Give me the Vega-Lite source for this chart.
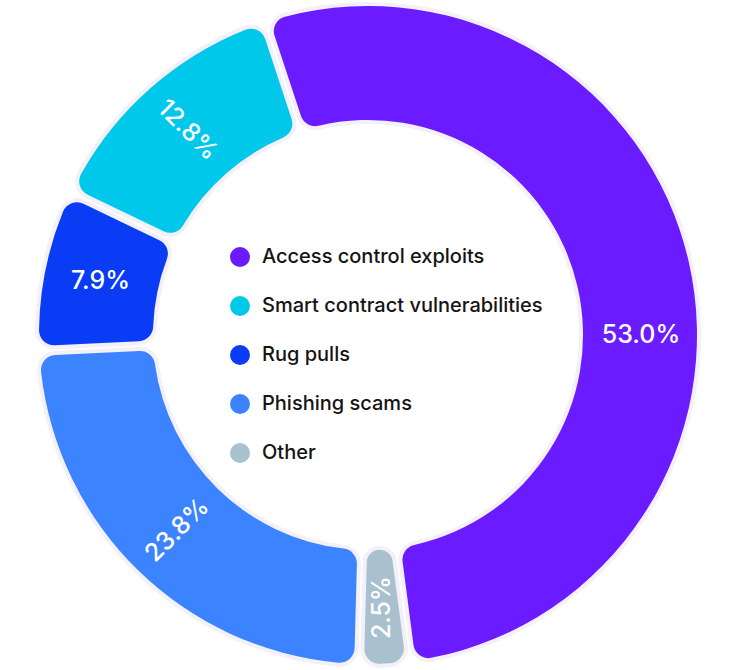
{
  "$schema": "https://vega.github.io/schema/vega-lite/v6.json",
  "width": 736,
  "height": 670,
  "autosize": {"type": "fit", "contains": "padding"},
  "padding": 0,
  "background": "white",
  "config": {"view": {"stroke": null}, "font": "Inter"},
  "data": {
    "values": [
      {"category": "Access control exploits", "share": 0.530},
      {"category": "Smart contract vulnerabilities", "share": 0.128},
      {"category": "Rug pulls", "share": 0.079},
      {"category": "Phishing scams", "share": 0.238},
      {"category": "Other", "share": 0.025}
    ]
  },
  "encoding": {
    "theta": {"field": "share", "type": "quantitative", "stack": true, "scale": {"range": [-0.3185, 5.9647]}},
    "order": {"field": "category", "type": "ordinal", "sort": "ascending"}
  },
  "layer": [
    {
      "mark": {"type": "arc", "outerRadius": 329, "innerRadius": 215, "padAngle": 0.025, "cornerRadius": 15, "fill": "#f3f0f8", "stroke": "#f3f0f8", "strokeWidth": 8}
    },
    {
      "mark": {"type": "arc", "outerRadius": 329, "innerRadius": 215, "padAngle": 0.025, "cornerRadius": 15},
      "encoding": {
        "color": {
          "field": "category",
          "type": "nominal",
          "scale": {
            "domain": ["Access control exploits", "Smart contract vulnerabilities", "Rug pulls", "Phishing scams", "Other"],
            "range": ["#6a1bff", "#00c8ea", "#0a3bf5", "#3c84ff", "#a9c0ce"]
          },
          "legend": {
            "orient": "none",
            "legendX": 230,
            "legendY": 237,
            "title": null,
            "symbolType": "circle",
            "symbolSize": 400,
            "symbolOpacity": 1,
            "symbolStrokeWidth": 0,
            "labelFontSize": 20,
            "labelFont": "Inter",
            "labelFontWeight": 500,
            "labelColor": "#141414",
            "labelOffset": 12,
            "rowPadding": 29,
            "labelLimit": 400
          }
        }
      }
    },
    {
      "mark": {"type": "text", "radius": 273, "fontSize": 25, "font": "Inter", "fontWeight": 500, "fill": "white", "align": "center", "baseline": "middle"},
      "encoding": {
        "text": {"field": "share", "type": "quantitative", "format": ".1%"},
        "angle": {
          "field": "category",
          "type": "ordinal",
          "scale": {
            "type": "ordinal",
            "domain": ["Access control exploits", "Smart contract vulnerabilities", "Rug pulls", "Phishing scams", "Other"],
            "range": [0, 45, 0, 315, 270]
          },
          "legend": null
        },
        "opacity": {"condition": {"test": "datum.category === 'Access control exploits'", "value": 0}, "value": 1}
      }
    },
    {
      "mark": {"type": "text", "radius": 273, "thetaOffset": 0.224, "fontSize": 25, "font": "Inter", "fontWeight": 500, "fill": "white", "align": "center", "baseline": "middle"},
      "encoding": {
        "text": {"field": "share", "type": "quantitative", "format": ".1%"},
        "opacity": {"condition": {"test": "datum.category === 'Access control exploits'", "value": 1}, "value": 0}
      }
    }
  ]
}
